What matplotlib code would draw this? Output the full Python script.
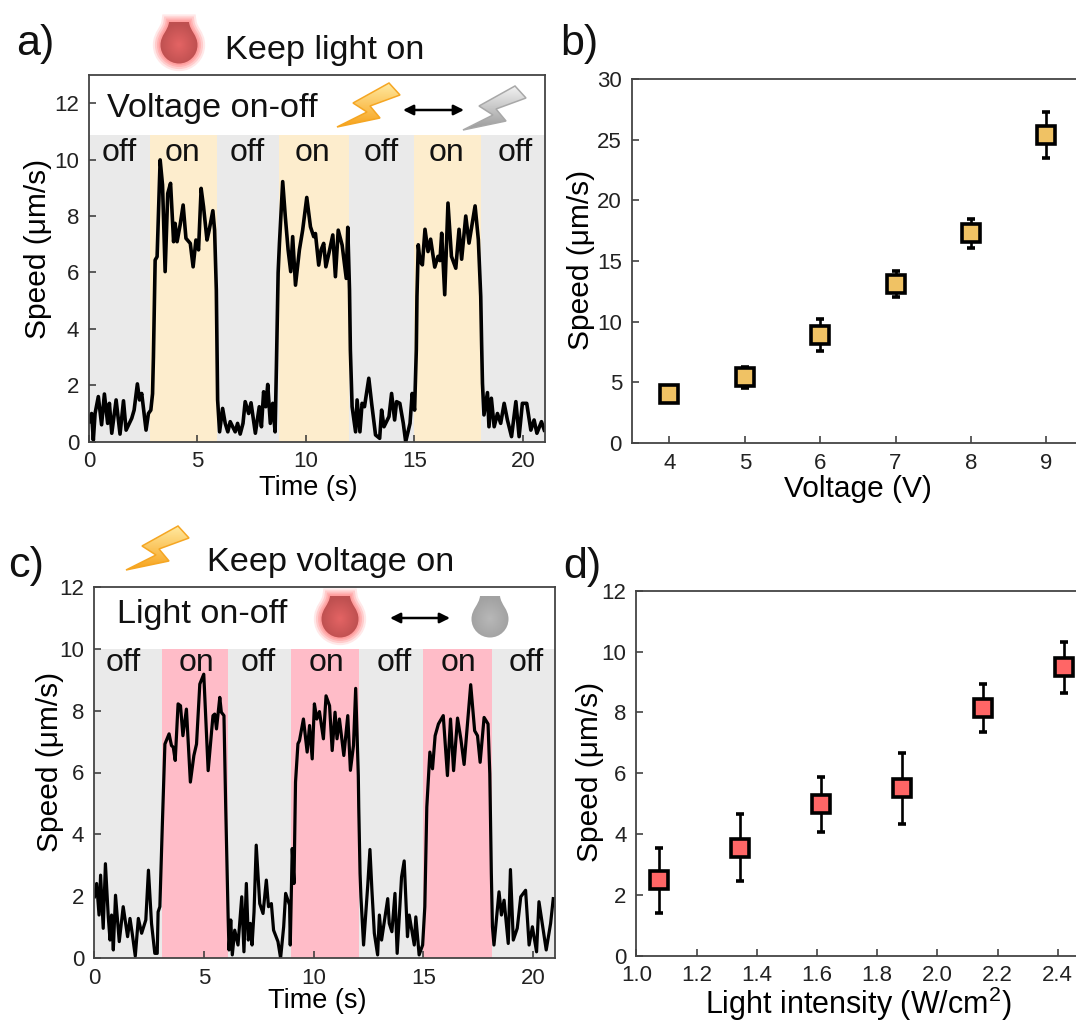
# Speed vs time / voltage / light intensity, four panels.
import numpy as np
import matplotlib
matplotlib.use('Agg')
import matplotlib.pyplot as plt
from matplotlib.path import Path
from matplotlib.patches import PathPatch, Polygon

plt.rcParams['font.family'] = ['Liberation Sans', 'DejaVu Sans']
plt.rcParams['mathtext.default'] = 'regular'
plt.rcParams['font.size'] = 16
plt.rcParams['text.color'] = '#111111'

W, H = 1076, 1023

## data ##
# panel a, trace
t_a = [0.0, .12, .2, .28, .43, .58, .71, .86, .94, 1.05, 1.25, 1.43, 1.59, 1.71, 1.97, 2.08, 2.23, 2.33, 2.43, 2.63,
       2.74, 2.85, 2.93, 2.97, 3.05, 3.14, 3.28, 3.39, 3.51, 3.63, 3.76, 3.9, 3.97, 4.06, 4.2, 4.34, 4.47, 4.67, 4.8,
       4.93, 5.05, 5.17, 5.28, 5.44, 5.54, 5.71, 5.79, 5.87, 5.9, 5.93, 6.02, 6.16, 6.28, 6.4, 6.51, 6.74, 6.85, 6.97,
       7.1, 7.2, 7.36, 7.47, 7.67, 7.85, 7.95, 8.05, 8.15, 8.24, 8.36, 8.47, 8.58, 8.64, 8.72, 8.78, 8.93, 9.05, 9.18,
       9.3, 9.39, 9.52, 9.7, 9.85, 10.04, 10.21, 10.36, 10.44, 10.59, 10.7, 10.82, 10.92, 11.06, 11.24, 11.36, 11.49,
       11.67, 11.86, 11.93, 12.01, 12.05, 12.13, 12.29, 12.36, 12.49, 12.59, 12.7, 12.9, 13.03, 13.21, 13.4, 13.49,
       13.6, 13.83, 13.95, 14.09, 14.18, 14.33, 14.49, 14.6, 14.8, 14.9, 15.01, 15.09, 15.12, 15.18, 15.26, 15.37,
       15.49, 15.63, 15.75, 15.94, 16.09, 16.18, 16.26, 16.4, 16.55, 16.71, 16.91, 17.06, 17.18, 17.37, 17.52, 17.8,
       17.95, 18.06, 18.1, 18.14, 18.21, 18.37, 18.44, 18.55, 18.68, 18.83, 18.98, 19.14, 19.29, 19.48, 19.68, 19.83,
       19.98, 20.18, 20.37, 20.52, 20.65, 20.86, 20.99]
v_a = [.71, 1.0, .06, 1.0, 1.6, .6, 1.69, .65, 1.36, .3, 1.48, .27, 1.45, .41, .83, 1.12, 2.05, 1.48, 1.71, .41,
       1.0, 1.12, 1.7, 3.0, 6.44, 6.56, 9.99, 9.1, 6.03, 8.8, 9.16, 7.09, 7.74, 7.09, 7.68, 8.39, 7.21, 7.03, 6.2,
       7.15, 6.8, 8.98, 8.33, 7.15, 7.5, 8.19, 7.5, 5.38, 3.5, 1.48, .35, 1.18, .65, .35, .71, .35, .65, .27,
       .65, 1.42, 1.0, 1.38, .3, 1.24, .53, 1.77, 1.24, 2.03, .65, 1.36, .35, 2.66, 6.0, 7.03, 9.22, 7.98, 6.8,
       6.03, 7.27, 5.55, 6.8, 7.5, 8.66, 7.62, 7.27, 7.38, 6.26, 6.8, 7.03, 6.2, 6.68, 7.33, 5.85, 7.5,
       6.97, 5.79, 7.6, 5.38, 3.25, 1.24, .35, 1.48, .35, 1.36, 1.24, 2.25, 1.36, .24, .12, 1.12,
       .53, .89, 1.71, .77, 1.42, 1.36, .65, 0.0, .65, 1.71, 1.12, 3.25, 5.15, 6.98, 6.39, 6.27,
       7.53, 6.74, 7.18, 6.19, 6.57, 6.42, 7.39, 5.21, 8.46, 6.57, 6.15, 7.53, 6.47, 8.0, 7.04, 8.36,
       7.16, 5.15, 3.5, 2.07, .95, 1.74, .53, 1.54, .53, 1.0, .65, 1.36, .77, .18, 1.42, .18,
       1.36, 1.36, .41, .77, .3, .71, .41]

# panel c, trace
t_c = [.02, .12, .23, .3, .42, .52, .65, .73, .8, .88, .98, 1.15, 1.33, 1.53, 1.64, 1.74, 1.88, 2.02, 2.17, 2.36,
       2.48, 2.62, 2.77, 2.88, 2.92, 3.0, 3.11, 3.23, 3.33, 3.42, 3.53, 3.61, 3.7, 3.83, 3.94, 4.05, 4.21, 4.39, 4.55,
       4.67, 4.82, 5.0, 5.2, 5.42, 5.5, 5.58, 5.73, 5.8, 5.92, 6.0, 6.11, 6.15, 6.23, 6.3, 6.41, 6.56, 6.73, 6.83,
       6.94, 7.03, 7.12, 7.2, 7.29, 7.39, 7.55, 7.7, 7.85, 7.95, 8.08, 8.18, 8.38, 8.5, 8.64, 8.73, 8.91, 8.94, 9.03,
       9.11, 9.18, 9.29, 9.36, 9.54, 9.71, 9.82, 9.94, 10.04, 10.15, 10.27, 10.45, 10.57, 10.73, 10.85, 10.98, 11.07,
       11.18, 11.38, 11.56, 11.68, 11.82, 11.92, 12.04, 12.06, 12.12, 12.16, 12.28, 12.47, 12.57, 12.66, 12.77, 12.92,
       13.0, 13.1, 13.3, 13.38, 13.45, 13.57, 13.71, 13.81, 14.01, 14.13, 14.28, 14.36, 14.59, 14.66, 14.81, 14.97,
       15.07, 15.16, 15.3, 15.42, 15.54, 15.69, 15.91, 16.1, 16.24, 16.38, 16.56, 16.71, 16.86, 17.16, 17.34, 17.47,
       17.59, 17.77, 17.95, 18.03, 18.1, 18.15, 18.22, 18.33, 18.45, 18.56, 18.68, 18.87, 18.97, 19.1, 19.28, 19.44,
       19.66, 19.82, 19.97, 20.16, 20.27, 20.42, 20.6, 20.8, 20.92]
v_c = [1.98, 2.41, 1.39, 2.68, .96, 3.05, 1.33, .58, 1.39, .26, 2.03, .53, 1.66, .69, 1.28, .8, .06, 1.28, .8, 1.23,
       2.84, 1.12, .15, .15, 1.49, 1.66, 4.24, 6.92, 7.09, 7.25, 6.87, 6.82, 6.39, 8.22, 8.16, 7.19, 8.05, 5.69, 6.55,
       6.92, 8.86, 9.18, 6.06, 7.84, 7.89, 7.41, 8.43, 7.95, 7.84, 4.88, 1.33, .26, 1.23, .1, .9, .42, 1.98, .2,
       2.41, .58, 1.12, .42, 1.49, 3.65, 1.76, 1.44, 2.52, 1.66, 1.76, .9, .53, 0.0, 1.01, 2.09, 1.71, .42, 3.54,
       2.41, 5.69, 6.93, 7.03, 7.73, 6.66, 7.52, 6.44, 8.22, 7.73, 7.97, 7.09, 8.48, 8.16, 6.71, 7.95, 7.09,
       7.73, 6.55, 7.84, 6.07, 6.87, 8.72, 5.9, 4.88, 2.73, 1.98, .42, 2.35, 3.51, 2.19, .8, .1,
       1.39, .58, 1.55, 1.92, 1.12, .85, 2.09, .15, 2.62, 3.14, .69, 1.39, .42, 1.33, .1, .42,
       1.66, 4.88, 6.66, 6.12, 7.19, 7.57, 7.84, 5.9, 7.73, 6.06, 7.76, 7.09, 6.26, 8.84, 7.35, 7.19,
       6.33, 7.78, 7.57, 5.96, 2.73, 1.01, .42, 1.23, 2.14, 1.39, 1.87, .47, 2.86, .58, .96, 1.98,
       2.19, .42, 1.01, .2, 1.82, 1.12, .26, 1.12, 1.92]

# on/off band edges
edges_a = [0, 2.8, 5.9, 8.78, 12.0, 15.0, 18.05, 21]
edges_c = [0, 3.08, 6.09, 8.98, 12.09, 15.0, 18.14, 21]

# panel b
voltage = [4, 5, 6, 7, 8, 9]
speed_b = [4.0, 5.4, 8.9, 13.1, 17.3, 25.4]
low_b = [3.5, 4.5, 7.6, 12.0, 16.1, 23.5]
high_b = [4.5, 6.3, 10.2, 14.2, 18.5, 27.3]

# panel d
intensity = [1.076, 1.346, 1.615, 1.884, 2.153, 2.42]
speed_d = [2.48, 3.55, 4.99, 5.5, 8.14, 9.48]
low_d = [1.41, 2.47, 4.07, 4.32, 7.34, 8.65]
high_d = [3.55, 4.65, 5.88, 6.68, 8.93, 10.31]

fig = plt.figure(figsize=(W / 100, H / 100), dpi=100)


def px_axes(x0, y0, x1, y1):
    return fig.add_axes([x0 / W, 1 - y1 / H, (x1 - x0) / W, (y1 - y0) / H])


def style(ax):
    for s in ax.spines.values():
        s.set_color('#444444')
        s.set_linewidth(1.3)
    ax.tick_params(direction='in', length=5, width=1.1, color='#333333', labelsize=16,
                   labelcolor='#222222', pad=7)


def labels(ax, xlabel, xsize, xpos, ypos):
    # axis labels sit at fixed picture positions
    ax.set_xlabel(xlabel, fontsize=xsize, va='center')
    ax.xaxis.set_label_coords(xpos[0] / W, 1 - xpos[1] / H, transform=fig.transFigure)
    ax.set_ylabel('Speed (μm/s)', fontsize=21.5, va='center')
    ax.yaxis.set_label_coords(ypos[0] / W, 1 - ypos[1] / H, transform=fig.transFigure)


def trace_panel(ax, t, v, edges, color, top, ymax, yticks, lw):
    for i in range(len(edges) - 1):
        c = color if i % 2 else '#EAEAEA'
        ax.fill_between(edges[i:i + 2], 0, top, color=c, lw=0, zorder=0)
    ax.plot(t, v, color='black', lw=lw, zorder=2)
    ax.set_xlim(0, 21)
    ax.set_ylim(0, ymax)
    ax.set_xticks([0, 5, 10, 15, 20])
    ax.set_yticks(yticks)
    style(ax)


def point_panel(ax, x, y, low, high, color):
    err = [np.array(y) - np.array(low), np.array(high) - np.array(y)]
    ax.errorbar(x, y, yerr=err, fmt='s', ms=12.5, mfc=color, mec='black', mew=2.6,
                ecolor='black', elinewidth=1.9, capsize=3.0, capthick=1.9, clip_on=False)
    style(ax)


## Figure a ##
ax1 = px_axes(89, 75, 544.5, 441.7)
trace_panel(ax1, t_a, v_a, edges_a, '#FDEDCD', 10.87, 13, [0, 2, 4, 6, 8, 10, 12], 2.6)
labels(ax1, 'Time (s)', 19.5, (308, 488), (38, 249))

## Figure b ##
ax2 = px_axes(631.7, 79, 1084, 443)
point_panel(ax2, voltage, speed_b, low_b, high_b, '#F0C264')
ax2.set_xlim(3.5, 9.5)
ax2.set_ylim(0, 30)
labels(ax2, 'Voltage (V)', 21.5, (858, 489), (581, 260))

## Figure c ##
ax3 = px_axes(94, 587, 555, 958)
trace_panel(ax3, t_c, v_c, edges_c, '#FFBCC8', 10, 12, [0, 2, 4, 6, 8, 10, 12], 2.3)
labels(ax3, 'Time (s)', 19.5, (317, 1001), (50, 762))

## Figure d ##
ax4 = px_axes(636.3, 590.7, 1087.8, 955.7)
point_panel(ax4, intensity, speed_d, low_d, high_d, '#FF6666')
ax4.set_xlim(1.0, 2.5)
ax4.set_ylim(0, 12)
ax4.set_xticks([1.0, 1.2, 1.4, 1.6, 1.8, 2.0, 2.2, 2.4])
labels(ax4, 'Light intensity (W/cm$^2$)', 22, (858, 1004), (590, 772))

# overlay in image pixels, for the icons and free text
ov = fig.add_axes([0, 0, 1, 1], zorder=10)
ov.patch.set_alpha(0)
ov.axis('off')

BOLT = [(0, 44), (30, 29), (16, 20), (52, 0), (63, 12), (33, 23), (43, 35)]
DROP_V = [(-10, -23), (10, -23), (11, -14), (18.5, -10), (18.5, 0), (18.5, 10.5), (10, 18.5), (0, 18.5),
          (-10, 18.5), (-18.5, 10.5), (-18.5, 0), (-18.5, -10), (-11, -14), (-10, -23), (-10, -23)]
DROP_C = [Path.MOVETO, Path.LINETO] + [Path.CURVE4] * 12 + [Path.CLOSEPOLY]


def bolt(x, y, light, dark, edge):
    pts = [(x + a, y + b) for a, b in BOLT]
    g = np.linspace(0, 1, 64)[:, None]
    rgb = (1 - g)[..., None] * np.array(matplotlib.colors.to_rgb(light)) + g[..., None] * np.array(matplotlib.colors.to_rgb(dark))
    im = ov.imshow(rgb, extent=(x, x + 63, y + 44, y), aspect='auto', zorder=3)
    p = Polygon(pts, closed=True, fc='none', ec=edge, lw=1.1, zorder=4)
    ov.add_patch(p)
    im.set_clip_path(p)


def drop(cx, cy, inner, outer, glow):
    path = Path([(cx + a, cy + b) for a, b in DROP_V], DROP_C)
    if glow:
        for w, al in [(11, .2), (8, .3), (5, .4), (2.5, .5)]:
            ov.add_patch(PathPatch(path, fc='none', ec='#FF8C8C', lw=w, alpha=al, zorder=2))
    yy, xx = np.mgrid[-1:1:64j, -1:1:64j]
    r = np.clip(np.hypot(xx, yy - .1), 0, 1)[..., None]
    rgb = (1 - r) * np.array(matplotlib.colors.to_rgb(inner)) + r * np.array(matplotlib.colors.to_rgb(outer))
    im = ov.imshow(rgb, extent=(cx - 19, cx + 19, cy + 19, cy - 24), aspect='auto', zorder=3)
    p = PathPatch(path, fc='none', ec='none', zorder=3)
    ov.add_patch(p)
    im.set_clip_path(p)


def arrow(x0, x1, y):
    ov.annotate('', xy=(x1, y), xytext=(x0, y),
                arrowprops=dict(arrowstyle='<|-|>', color='black', lw=1.8, mutation_scale=15,
                                shrinkA=0, shrinkB=0))


drop(179, 45, '#E46464', '#BE5050', True)
bolt(337, 83, '#FFE9A0', '#F7A21B', '#F5A623')
bolt(463, 86, '#F2F2F2', '#9A9A9A', '#A8A8A8')
arrow(403, 464, 110)

bolt(126, 526, '#FFE9A0', '#F7A21B', '#F5A623')
drop(340, 619, '#E46464', '#BE5050', True)
drop(490, 619, '#B8B8B8', '#A2A2A2', False)
arrow(390, 450, 618)

# free text
for s, x, y in [('a)', 16, 44), ('b)', 560, 44), ('c)', 8, 566), ('d)', 563, 567)]:
    ov.text(x, y, s, fontsize=31, ha='left', va='center')
ov.text(225, 50, 'Keep light on', fontsize=24.7, ha='left', va='center')
ov.text(207, 563, 'Keep voltage on', fontsize=24.7, ha='left', va='center')
ov.text(107, 109, 'Voltage on-off', fontsize=24.7, ha='left', va='center')
ov.text(117, 614, 'Light on-off', fontsize=24.7, ha='left', va='center')

for x, s in zip([119, 183, 247, 312, 381, 446, 515], ['off', 'on'] * 3 + ['off']):
    ov.text(x, 153, s, fontsize=23, ha='center', va='center')
for x, s in zip([123, 196, 258, 326, 394, 459, 526], ['off', 'on'] * 3 + ['off']):
    ov.text(x, 663, s, fontsize=23, ha='center', va='center')

ov.set_xlim(0, W)
ov.set_ylim(H, 0)

fig.savefig('out.png', dpi=100)
